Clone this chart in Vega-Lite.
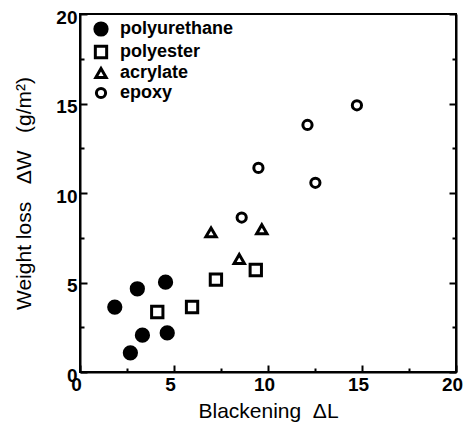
{
  "$schema": "https://vega.github.io/schema/vega-lite/v6.json",
  "width": 376,
  "height": 358,
  "autosize": {"type": "none"},
  "padding": {"left": 80, "top": 14, "right": 9, "bottom": 57},
  "background": "white",
  "config": {
    "view": {"stroke": "black", "strokeWidth": 2}
  },
  "data": {"values": [
    {"series": "polyurethane", "L": 1.85, "W": 3.63},
    {"series": "polyurethane", "L": 3.05, "W": 4.65},
    {"series": "polyurethane", "L": 4.55, "W": 5.02},
    {"series": "polyurethane", "L": 3.32, "W": 2.06},
    {"series": "polyurethane", "L": 4.64, "W": 2.18},
    {"series": "polyurethane", "L": 2.68, "W": 1.07},
    {"series": "polyester", "L": 4.11, "W": 3.35},
    {"series": "polyester", "L": 5.96, "W": 3.63},
    {"series": "polyester", "L": 7.23, "W": 5.16},
    {"series": "polyester", "L": 9.35, "W": 5.7},
    {"series": "acrylate", "L": 6.97, "W": 7.8},
    {"series": "acrylate", "L": 9.67, "W": 7.98},
    {"series": "acrylate", "L": 8.47, "W": 6.31},
    {"series": "epoxy", "L": 8.6, "W": 8.63},
    {"series": "epoxy", "L": 9.49, "W": 11.4},
    {"series": "epoxy", "L": 12.52, "W": 10.57},
    {"series": "epoxy", "L": 12.1, "W": 13.8},
    {"series": "epoxy", "L": 14.73, "W": 14.9}
  ]},
  "resolve": {"axis": {"y": "independent"}},
  "layer": [
    {
      "mark": {"type": "point", "strokeWidth": 3, "opacity": 1},
      "encoding": {
        "x": {"field": "L", "type": "quantitative", "scale": {"domain": [0, 20], "nice": false},
          "axis": {"title": "Blackening\u00a0\u00a0ΔL", "values": [0, 2.5, 5, 7.5, 10, 12.5, 15, 17.5, 20],
            "labelExpr": "datum.value % 5 === 0 ? datum.label : ''",
            "tickSize": {"condition": {"test": "datum.value % 5 === 0", "value": -7}, "value": -4},
            "tickColor": "black", "tickWidth": 2, "domainColor": "black", "domainWidth": 2, "grid": false,
            "labelFont": "Liberation Sans", "labelFontWeight": "bold", "labelFontSize": 19, "labelColor": "black",
            "titleFont": "Liberation Sans", "titleFontWeight": "normal", "titleFontSize": 21, "titleColor": "black",
            "labelPadding": 10, "labelOffset": -4, "titlePadding": 6, "labelFlush": false}},
        "y": {"field": "W", "type": "quantitative", "scale": {"domain": [0, 20], "nice": false},
          "axis": {"title": "Weight loss\u00a0\u00a0\u00a0ΔW\u00a0\u00a0\u00a0(g/m²)", "values": [0, 2.5, 5, 7.5, 10, 12.5, 15, 17.5, 20],
            "labelExpr": "datum.value % 5 === 0 ? datum.label : ''",
            "tickSize": {"condition": {"test": "datum.value % 5 === 0", "value": -7}, "value": -4},
            "tickColor": "black", "tickWidth": 2, "domainColor": "black", "domainWidth": 2, "grid": false,
            "labelFont": "Liberation Sans", "labelFontWeight": "bold", "labelFontSize": 19, "labelColor": "black",
            "titleFont": "Liberation Sans", "titleFontWeight": "normal", "titleFontSize": 21, "titleColor": "black",
            "labelPadding": 10, "labelOffset": 3, "titlePadding": 21, "labelFlush": false}},
        "shape": {"field": "series", "type": "nominal",
          "scale": {"domain": ["polyurethane", "polyester", "acrylate", "epoxy"], "range": ["circle", "square", "triangle-up", "circle"]},
          "legend": {"title": null, "orient": "none", "legendX": 12, "legendY": 6, "padding": 0,
            "labelFont": "Liberation Sans", "labelFontWeight": "bold", "labelFontSize": 18, "labelColor": "black",
            "symbolStrokeWidth": 3, "rowPadding": -2, "labelOffset": 10}},
        "fill": {"field": "series", "type": "nominal",
          "scale": {"domain": ["polyurethane", "polyester", "acrylate", "epoxy"], "range": ["black", "white", "white", "white"]},
          "legend": {"title": null, "orient": "none", "legendX": 12, "legendY": 6, "padding": 0,
            "labelFont": "Liberation Sans", "labelFontWeight": "bold", "labelFontSize": 18, "labelColor": "black",
            "symbolStrokeWidth": 3, "rowPadding": -2, "labelOffset": 10}},
        "stroke": {"field": "series", "type": "nominal",
          "scale": {"domain": ["polyurethane", "polyester", "acrylate", "epoxy"], "range": ["black", "black", "black", "black"]},
          "legend": {"title": null, "orient": "none", "legendX": 12, "legendY": 6, "padding": 0,
            "labelFont": "Liberation Sans", "labelFontWeight": "bold", "labelFontSize": 18, "labelColor": "black",
            "symbolStrokeWidth": 3, "rowPadding": -2, "labelOffset": 10}},
        "size": {"field": "series", "type": "nominal",
          "scale": {"domain": ["polyurethane", "polyester", "acrylate", "epoxy"], "range": [150, 85, 95, 75]},
          "legend": {"title": null, "orient": "none", "legendX": 12, "legendY": 6, "padding": 0,
            "labelFont": "Liberation Sans", "labelFontWeight": "bold", "labelFontSize": 18, "labelColor": "black",
            "symbolStrokeWidth": 3, "rowPadding": -2, "labelOffset": 10}}
      }
    },
    {
      "mark": {"type": "point", "opacity": 0},
      "encoding": {
        "x": {"field": "L", "type": "quantitative"},
        "y": {"field": "W", "type": "quantitative",
          "axis": {"orient": "right", "title": null, "labels": false, "values": [0, 2.5, 5, 7.5, 10, 12.5, 15, 17.5, 20],
            "tickColor": "black", "tickWidth": 2, "domainColor": "black", "domainWidth": 2, "grid": false,
            "tickSize": {"condition": {"test": "datum.value % 5 === 0", "value": -7}, "value": -4}}}
      }
    }
  ]
}
